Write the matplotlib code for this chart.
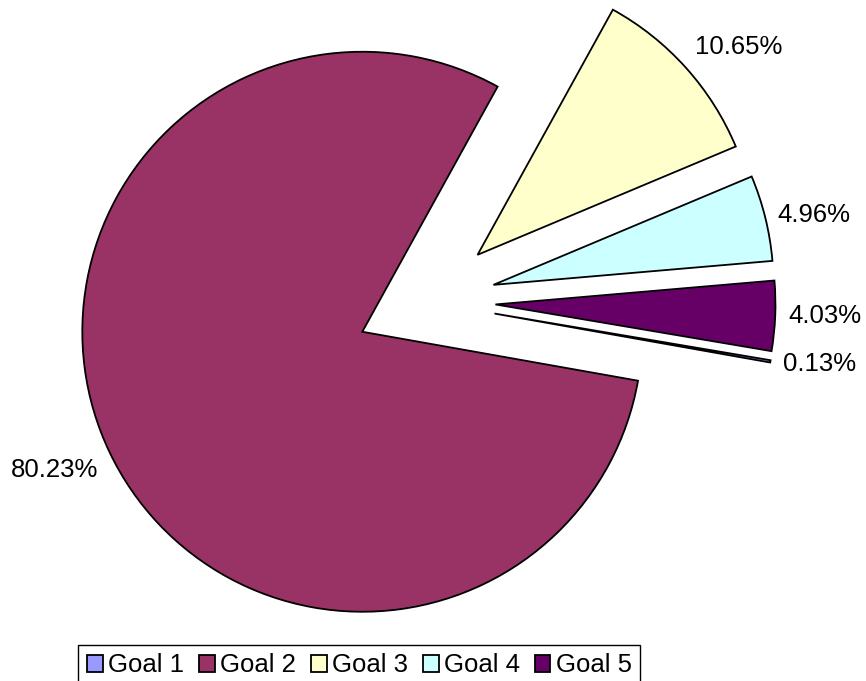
import matplotlib
matplotlib.use("Agg")
import matplotlib.pyplot as plt
import numpy as np

# Share of effort per goal (percent)
goals = ["Goal 1", "Goal 2", "Goal 3", "Goal 4", "Goal 5"]
shares = [0.13, 80.23, 10.65, 4.96, 4.03]
share_labels = ["0.13%", "80.23%", "10.65%", "4.96%", "4.03%"]
colors = ["#9999FF", "#993366", "#FFFFCC", "#CCFFFF", "#660066"]
explode = [0.25, 0.25, 0.25, 0.25, 0.25]

plt.rcParams["font.family"] = ["Liberation Sans", "DejaVu Sans"]

fig = plt.figure(figsize=(8.66, 6.81), dpi=100)
ax = fig.add_axes([0, 0, 1, 1])

wedges, texts = ax.pie(
    shares,
    labels=share_labels,
    colors=colors,
    explode=explode,
    startangle=-9.6,
    counterclock=False,
    labeldistance=1.046,
    radius=1.0,
    wedgeprops=dict(edgecolor="black", linewidth=1.3),
    textprops=dict(fontsize=18.5, color="black"),
)

# Labels far above/below the centre sit with their edge on the anchor point
for w, t in zip(wedges, texts):
    mid = np.deg2rad((w.theta1 + w.theta2) / 2.0)
    s = np.sin(mid)
    if s > 0.4:
        t.set_verticalalignment("bottom")
    elif s < -0.4:
        t.set_verticalalignment("top")

ax.set_aspect("auto")
ax.set_xlim(-1.5196, 1.5732)
ax.set_ylim(-1.355, 1.0771)
ax.axis("off")

leg = fig.legend(
    wedges, goals,
    loc="upper left",
    bbox_to_anchor=(78.3 / 866, 36 / 681),
    bbox_transform=fig.transFigure,
    ncol=5,
    fontsize=18.5,
    frameon=True,
    fancybox=False,
    edgecolor="black",
    framealpha=1,
    borderpad=0.33,
    borderaxespad=0,
    handlelength=0.62,
    handleheight=0.62,
    handletextpad=0.2,
    columnspacing=0.58,
)
leg.get_frame().set_linewidth(1.0)

fig.savefig("out.png", dpi=100)
